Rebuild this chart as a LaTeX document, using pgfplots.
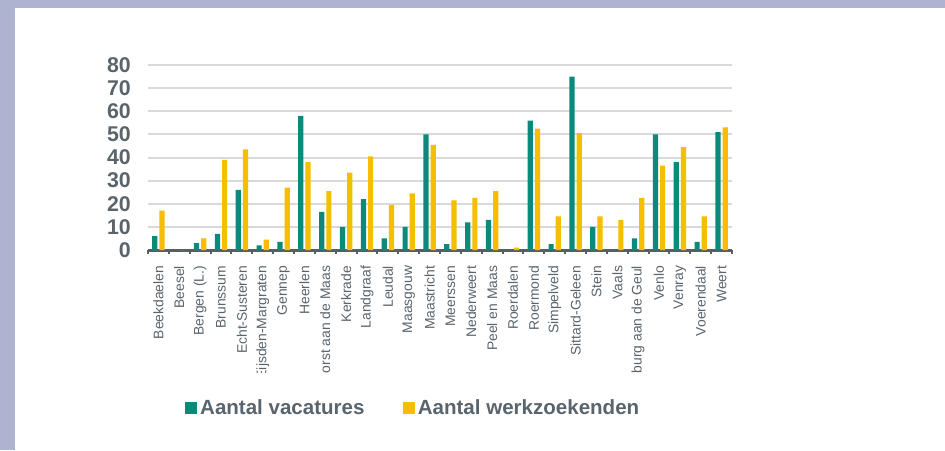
\documentclass[border=0pt]{standalone}
\usepackage{fontspec}
\setmainfont{Liberation Sans}
\usepackage{pgfplots}
\usepackage{pgfplotstable}
\pgfplotsset{compat=1.18}

\definecolor{vacgreen}{RGB}{10,138,122}
\definecolor{werkyellow}{RGB}{245,190,0}
\definecolor{textgray}{RGB}{90,100,108}
\definecolor{axisgray}{RGB}{85,95,100}
\definecolor{gridgray}{RGB}{217,217,217}
\definecolor{frame}{RGB}{174,179,207}

% idx vacatures werkzoekenden
\pgfplotstableread{
idx vac werk
0  6    17
1  0    0
2  3    5
3  7    39
4  26   43.5
5  2    4.5
6  3.5  27
7  58   38
8  16.5 25.5
9  10   33.5
10 22   40.5
11 5    19.5
12 10   24.5
13 50   45.5
14 2.5  21.5
15 12   22.5
16 13   25.5
17 0    1
18 56   52.5
19 2.5  14.5
20 75   50.5
21 10   14.5
22 0    13
23 5    22.5
24 50   36.5
25 38   44.5
26 3.5  14.5
27 51   53
}\gemeenten

\begin{document}
\begin{tikzpicture}
% 1px = 0.75pt, picture 945x450 px
\path[use as bounding box] (0,0) rectangle (708.75pt,337.5pt);
\fill[frame] (0,0) rectangle (708.75pt,337.5pt);
\fill[white] (11.25pt,0) rectangle (708.75pt,331.5pt);

\begin{axis}[
    at={(111pt,150pt)}, anchor=south west,
    scale only axis,
    width=438pt, height=138.75pt,
    ybar=1.5pt, bar width=3.9pt,
    xmin=-0.5, xmax=27.5,
    ymin=0, ymax=80,
    clip=false,
    axis lines*=left,
    x axis line style={draw=axisgray, line width=2.25pt},
    y axis line style={draw=none},
    ymajorgrids,
    grid style={draw=gridgray, line width=1.5pt},
    ytick={0,10,...,80},
    ytick style={draw=none},
    yticklabel style={anchor=east, inner sep=0pt, xshift=-12.75pt,
        font=\fontsize{16}{16}\selectfont\bfseries, text=textgray},
    /pgf/number format/assume math mode=true,
    xtick={0,...,27},
    xtick style={draw=none},
    xticklabels={Beekdaelen, Beesel, Bergen (L.), Brunssum, Echt-Susteren,
        Eijsden-Margraten, Gennep, Heerlen, Horst aan de Maas, Kerkrade,
        Landgraaf, Leudal, Maasgouw, Maastricht, Meerssen, Nederweert,
        Peel en Maas, Roerdalen, Roermond, Simpelveld, Sittard-Geleen,
        Stein, Vaals, Valkenburg aan de Geul, Venlo, Venray, Voerendaal, Weert},
    xticklabel style={yshift=-7.5pt, rotate=90, anchor=east, inner sep=0pt,
        font=\fontsize{10.4}{10.4}\selectfont, text=textgray},
    extra x ticks={-0.5,0.5,...,27.5},
    extra x tick labels={},
    extra x tick style={xtick style={draw=axisgray, line width=1.5pt},
        tick align=outside, major tick length=3pt},
    legend columns=2,
    legend style={at={(0.455,-0.854)}, anchor=center, draw=none, fill=none,
        font=\fontsize{15.4}{18}\selectfont\bfseries, text=textgray,
        /tikz/every even column/.append style={column sep=26pt},
        nodes={inner xsep=2.5pt}},
    legend image code/.code={\fill[#1,draw=none] (0pt,-4.5pt) rectangle (9pt,4.5pt);},
]
\addplot[fill=vacgreen, draw=none] table[x=idx, y=vac] {\gemeenten};
\addplot[fill=werkyellow, draw=none] table[x=idx, y=werk] {\gemeenten};
% the chart clips long category names at the bottom
\fill[white] (rel axis cs:-0.05,-0.665) rectangle (rel axis cs:1.05,-1.09);
\legend{Aantal vacatures, Aantal werkzoekenden}
\end{axis}
\end{tikzpicture}
\end{document}
